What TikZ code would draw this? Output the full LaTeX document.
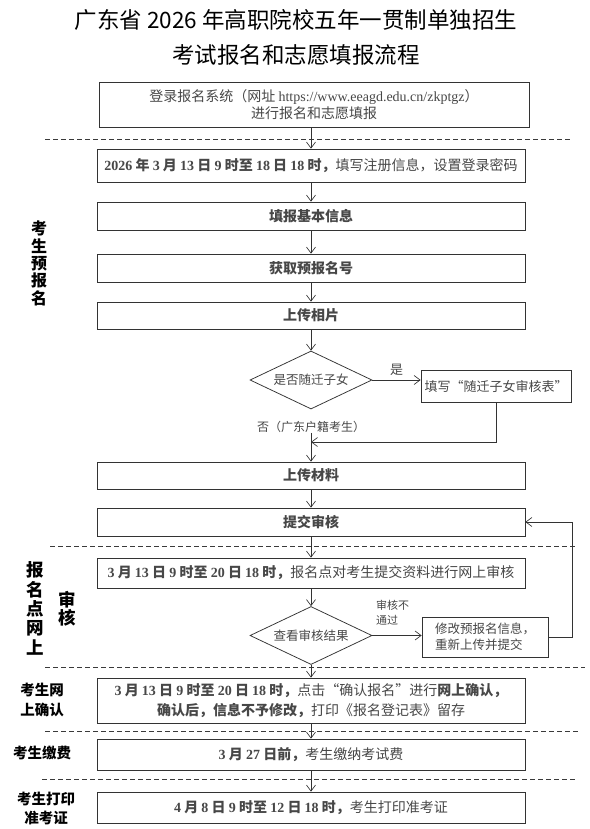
\documentclass[tikz,border=0pt]{standalone}
\usepackage{fontspec}
\setmainfont{Noto Sans CJK SC}
\newfontfamily\latinfont{Liberation Serif}
\newcommand\nm[1]{{\latinfont #1}}
\usetikzlibrary{arrows.meta,positioning,calc,shapes.geometric}
\definecolor{LineDark}{HTML}{333333}
\definecolor{TextReg}{HTML}{474747}
\definecolor{SepGray}{HTML}{3A3A3A}
\tikzset{
  every picture/.append style={>={Straight Barb[length=6pt,width=9pt]}},
  blk/.style={rectangle, draw=LineDark, line width=0.75pt, align=center,
              inner sep=0pt, text=TextReg},
  mainbox/.style={blk, minimum width=428pt, font=\fontsize{14}{20}\selectfont},
  sidebox/.style={blk, font=\fontsize{13}{17}\selectfont},
  choice/.style={diamond, draw=LineDark, line width=0.75pt, aspect=2.1, inner sep=0pt,
                 minimum width=122pt, minimum height=58pt, text=TextReg,
                 font=\fontsize{12.5}{15}\selectfont},
  flow/.style={->, line width=0.65pt, draw=LineDark},
  sep/.style={draw=SepGray, line width=0.8pt, dash pattern=on 5pt off 3pt},
  stage/.style={align=center, text=black, inner sep=0pt},
  nt/.style={text=TextReg, inner sep=0pt},
}

\begin{document}
\begin{tikzpicture}[x=1pt,y=-1pt,
  ttl/.style={align=center, text=black, font=\fontsize{22.5}{35}\selectfont},
]
\path[use as bounding box, fill=white] (0,0) rectangle (589,829);

% main column centre
\def\cx{311}

% ======================= title =====================================================
\node[ttl] (title) at (296,37.5)
  {广东省 2026 年高职院校五年一贯制单独招生\\考试报名和志愿填报流程};

% ======================= stage 1: pre-registration ===============================
\node[mainbox, minimum width=430pt, minimum height=45pt, font=\fontsize{14}{17}\selectfont]
  (login) at (314,104.5)
  {登录报名系统（网址 \nm{https://www.eeagd.edu.cn/zkptgz}）\\进行报名和志愿填报};
\node[mainbox, minimum height=33pt] (reg) at (\cx,165.5)
  {\textbf{\nm{2026} 年 \nm{3} 月 \nm{13} 日 \nm{9} 时至 \nm{18} 日 \nm{18} 时，}填写注册信息，设置登录密码};
\node[mainbox, minimum height=28pt] (info) at (\cx,216) {\textbf{填报基本信息}};
\node[mainbox, minimum height=28pt] (num) at (\cx,268) {\textbf{获取预报名号}};
\node[mainbox, minimum height=27pt] (photo) at (\cx,315.5) {\textbf{上传相片}};

\node[choice] (d1) at (\cx,380) {是否随迁子女};
\node[sidebox, minimum width=150pt, minimum height=32pt] (form) at (496,386)
  {填写“随迁子女审核表”};
\node[nt, font=\fontsize{12}{14}\selectfont] (no) at (\cx,427) {否（广东户籍考生）};
\coordinate (merge) at (\cx,442);

\node[mainbox, minimum height=27pt] (upload) at (\cx,475.5) {\textbf{上传材料}};
\node[mainbox, minimum height=28pt] (submit) at (\cx,522) {\textbf{提交审核}};

% ======================= stage 2: review by the registration site ================
\node[mainbox, minimum height=30pt] (review) at (\cx,573)
  {\textbf{\nm{3} 月 \nm{13} 日 \nm{9} 时至 \nm{20} 日 \nm{18} 时，}报名点对考生提交资料进行网上审核};
\node[choice] (d2) at (\cx,635.5) {查看审核结果};
\node[sidebox, align=left, minimum width=126pt, minimum height=40pt,
      font=\fontsize{12.5}{16}\selectfont] (fix) at (485,637)
  {修改预报名信息，\\重新上传并提交};
\node[nt, align=left, anchor=west, font=\fontsize{11}{15}\selectfont] (fail) at (376,612.5)
  {审核不\\通过};

% ======================= stages 3-5: confirm, fee, ticket ========================
\node[mainbox, minimum height=45pt] (confirm) at (\cx,700.5)
  {\textbf{\nm{3} 月 \nm{13} 日 \nm{9} 时至 \nm{20} 日 \nm{18} 时，}点击“确认报名”进行\textbf{网上确认，}\\
   \textbf{确认后，信息不予修改，}打印《报名登记表》留存};
\node[mainbox, minimum height=31pt] (fee) at (\cx,754.5)
  {\textbf{\nm{3} 月 \nm{27} 日前，}考生缴纳考试费};
\node[mainbox, minimum height=31pt] (ticket) at (\cx,807.5)
  {\textbf{\nm{4} 月 \nm{8} 日 \nm{9} 时至 \nm{12} 日 \nm{18} 时，}考生打印准考证};

% ======================= stage labels (left margin) ==============================
\node[stage, font=\fontsize{16}{17.4}\selectfont\bfseries] (sPre) at (39,263.5)
  {考\\生\\预\\报\\名};
\node[stage, font=\fontsize{17.5}{19.4}\selectfont\bfseries] (sSite) at (35,608.5)
  {报\\名\\点\\网\\上};
\node[stage, font=\fontsize{17.5}{18.5}\selectfont\bfseries] (sAudit) at (67,608.5)
  {审\\核};
\node[stage, font=\fontsize{14.5}{20}\selectfont\bfseries] (sConf) at (42,700)
  {考生网\\上确认};
\node[stage, font=\fontsize{14.5}{18}\selectfont\bfseries] (sFee) at (42,753) {考生缴费};
\node[stage, font=\fontsize{14.5}{19}\selectfont\bfseries] (sPrint) at (46,808.5)
  {考生打印\\准考证};

% ======================= stage separators ========================================
\draw[sep] (45,139) -- (572,139);
\draw[sep] (50,546) -- (577,546);
\draw[sep] (45,667) -- (585,667);
\draw[sep] (45,731) -- (580,731);
\draw[sep] (42,779) -- (575,779);

% ======================= arrows ==================================================
\draw[flow] (login.south -| reg.north) -- (reg.north);
\draw[flow] (reg) -- (info); \draw[flow] (info) -- (num); \draw[flow] (num) -- (photo);
\draw[flow] (photo) -- (d1);
\draw[flow] (d1.east) -- (d1.east -| form.west) node[nt, midway, above=4pt,
  font=\fontsize{13}{15}\selectfont] {是};
\draw[flow] (form.south) |- (merge);
\draw[flow] (no) -- (upload);
\draw[flow] (upload) -- (submit);
\draw[flow] (submit) -- (review);
\draw[flow] (review) -- (d2);
\draw[flow] (d2.east) -- (d2.east -| fix.west);
\draw[flow] (fix.east) -- ++(24,0) |- (submit.east);
\draw[flow] (d2) -- (confirm);
\draw[flow] (confirm) -- (fee); \draw[flow] (fee) -- (ticket);

\end{tikzpicture}
\end{document}
